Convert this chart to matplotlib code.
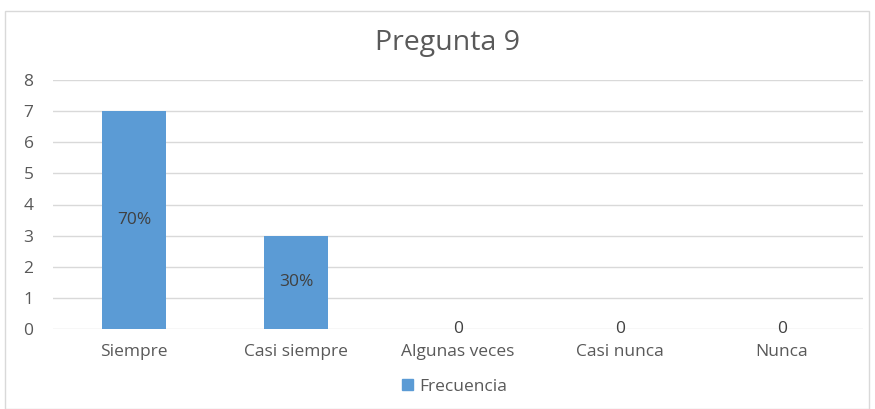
import matplotlib
matplotlib.use("Agg")
import matplotlib.pyplot as plt
from matplotlib.patches import Rectangle, Patch

categories = ["Siempre", "Casi siempre", "Algunas veces", "Casi nunca", "Nunca"]
values = [7, 3, 0, 0, 0]
labels = ["70%", "30%", "0", "0", "0"]
yticks = [0, 1, 2, 3, 4, 5, 6, 7, 8]

plt.rcParams['font.family'] = ['Open Sans', 'DejaVu Sans']
W, H = 875, 409
fig = plt.figure(figsize=(W/100, H/100), dpi=100)
ax = fig.add_axes([53/W, 1-329/H, (863-53)/W, (329-80)/H])

bar_color = "#5B9BD5"
txt = "#595959"
x = range(len(categories))
bars = ax.bar(x, values, width=0.4, color=bar_color, zorder=3, label="Frecuencia")
for xi, v, lab in zip(x, values, labels):
    ax.text(xi, v/2, lab, ha="center", va="center", fontsize=12.5, color="#404040", zorder=4)

ax.set_xlim(-0.5, len(categories)-0.5)
ax.set_ylim(0, 8)
ax.set_yticks(yticks)
ax.set_xticks(list(x))
ax.set_xticklabels(categories)
ax.yaxis.grid(True, color="#D9D9D9", linewidth=1, zorder=0)
for s in ax.spines.values():
    s.set_visible(False)
ax.tick_params(axis="both", length=0, colors=txt, labelsize=12.5)
ax.tick_params(axis="y", pad=14)
ax.tick_params(axis="x", pad=11)

fig.text(447/W, 1-43/H, "Pregunta 9", ha="center", va="center", fontsize=20.5, color=txt)

fig.legend(handles=[Patch(color=bar_color, label="Frecuencia")], loc="center",
           bbox_to_anchor=(455/W, 1-387/H), frameon=False, fontsize=12.5,
           handlelength=0.6, handleheight=0.6, handletextpad=0.4, labelcolor=txt)

fig.patches.append(Rectangle((5/W, 0), (869-5)/W, 1-11/H, transform=fig.transFigure,
                             fill=False, edgecolor="#D9D9D9", linewidth=1))

fig.savefig("out.png", dpi=100)
